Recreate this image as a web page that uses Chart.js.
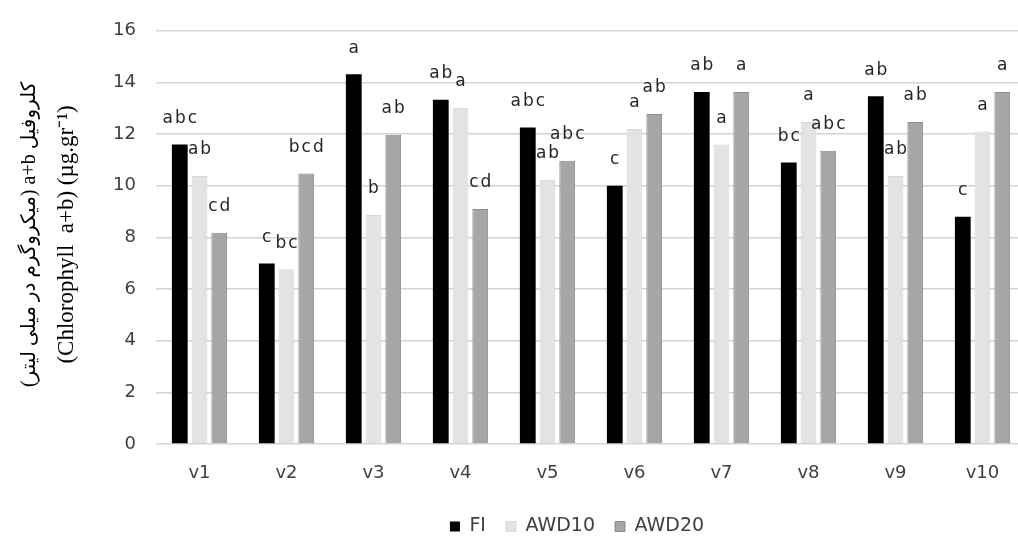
<!DOCTYPE html>
<html>
<head>
<meta charset="utf-8">
<script src="https://cdn.jsdelivr.net/npm/chart.js@4/dist/chart.umd.min.js"></script>
<style>
  html, body { margin: 0; padding: 0; background: #fff; overflow: hidden; }
  #wrap { width: 1030px; height: 536px; }
</style>
</head>
<body>
<div id="wrap"><canvas id="chlChart" width="1030" height="536"></canvas></div>
<script>
// chlorophyll a+b by variety and irrigation regime
const categories = ['v1', 'v2', 'v3', 'v4', 'v5', 'v6', 'v7', 'v8', 'v9', 'v10'];
const seriesNames = ['FI', 'AWD10', 'AWD20'];

const fiValues    = [11.6, 6.99, 14.32, 13.33, 12.26, 10.0, 13.63, 10.9, 13.47, 8.8];
const awd10Values = [10.38, 6.77, 8.87, 13.01, 10.22, 12.2, 11.6, 12.47, 10.38, 12.1];
const awd20Values = [8.18, 10.47, 11.97, 9.1, 10.97, 12.78, 13.63, 11.36, 12.47, 13.63];

// mean comparison letters over each bar
const fiLetters    = ['abc', 'c', 'a', 'ab', 'abc', 'c', 'ab', 'bc', 'ab', 'c'];
const awd10Letters = ['ab', 'bc', 'b', 'a', 'ab', 'a', 'a', 'a', 'ab', 'a'];
const awd20Letters = ['cd', 'bcd', 'ab', 'cd', 'abc', 'ab', 'a', 'abc', 'ab', 'a'];

const yTicks = [0, 2, 4, 6, 8, 10, 12, 14, 16];

const yTitleFa = 'کلروفیل a+b (میکروگرم در میلی لیتر)';
const yTitleEn = '(Chlorophyll  a+b) (µg.gr⁻¹)';

const TEXT_COLOR = '#404040';
const LABEL_FONT = '"DejaVu Sans"';

// letters drawn just above each bar
const letterPlugin = {
  id: 'letterPlugin',
  afterDatasetsDraw(chart) {
    const ctx = chart.ctx;
    const allLetters = [fiLetters, awd10Letters, awd20Letters];
    ctx.save();
    ctx.font = '17px "DejaVu Sans"';
    ctx.fillStyle = '#262626';
    ctx.textAlign = 'center';
    ctx.textBaseline = 'middle';
    ctx.letterSpacing = '2px';
    chart.data.datasets.forEach((ds, i) => {
      const meta = chart.getDatasetMeta(i);
      meta.data.forEach((bar, j) => {
        ctx.fillText(allLetters[i][j], bar.x + 1, bar.y - 26);
      });
    });
    ctx.restore();
  }
};

// legend sits under the plot, a bit right of the canvas centre
const legendShift = {
  id: 'legendShift',
  afterLayout(chart) {
    const lg = chart.legend;
    if (!lg) return;
    lg.left += 64;
    lg.right += 64;
  }
};

// two line y title (persian + english), rotated
const yTitlePlugin = {
  id: 'yTitlePlugin',
  afterDraw(chart) {
    const ctx = chart.ctx;
    const area = chart.chartArea;
    const cy = (area.top + area.bottom) / 2 - 3;
    ctx.save();
    ctx.fillStyle = '#000';
    ctx.textAlign = 'center';
    ctx.textBaseline = 'middle';

    ctx.save();
    ctx.translate(area.left - 126, cy);
    ctx.rotate(-Math.PI / 2);
    ctx.direction = 'rtl';
    ctx.font = '20px "Liberation Serif", "DejaVu Sans"';
    ctx.fillText(yTitleFa, 0, 0);
    ctx.restore();

    ctx.save();
    ctx.translate(area.left - 89, cy);
    ctx.rotate(-Math.PI / 2);
    ctx.direction = 'ltr';
    ctx.font = '23px "Liberation Serif"';
    ctx.fillText(yTitleEn, 0, 0);
    ctx.restore();

    ctx.restore();
  }
};

const ctx = document.getElementById('chlChart').getContext('2d');
new Chart(ctx, {
  type: 'bar',
  data: {
    labels: categories,
    datasets: [
      {
        label: seriesNames[0],
        data: fiValues,
        backgroundColor: '#000000',
        borderColor: '#000000',
        borderWidth: 0
      },
      {
        label: seriesNames[1],
        data: awd10Values,
        backgroundColor: '#e3e3e3',
        borderColor: '#d8d8d8',
        borderWidth: 1
      },
      {
        label: seriesNames[2],
        data: awd20Values,
        backgroundColor: '#a6a6a6',
        borderColor: '#8c8c8c',
        borderWidth: 1
      }
    ]
  },
  options: {
    responsive: false,
    animation: false,
    categoryPercentage: 0.68,
    barPercentage: 0.8,
    layout: { padding: { left: 0, right: 4, top: 18, bottom: -10 } },
    plugins: {
      tooltip: { enabled: false },
      legend: {
        position: 'bottom',
        labels: {
          boxWidth: 10,
          boxHeight: 10,
          padding: 20,
          color: TEXT_COLOR,
          font: { family: LABEL_FONT, size: 19 }
        }
      }
    },
    scales: {
      x: {
        afterFit(scale) { scale.height = 53; },
        grid: { display: false, drawTicks: false },
        border: { display: false },
        ticks: {
          padding: 19,
          color: TEXT_COLOR,
          font: { family: LABEL_FONT, size: 18 }
        }
      },
      y: {
        min: 0,
        max: 16,
        afterFit(scale) { scale.width = 156; },
        afterBuildTicks(scale) { scale.ticks = yTicks.map(v => ({ value: v })); },
        grid: { color: '#d4d4d4', lineWidth: 1.5, drawTicks: false },
        border: { display: false },
        ticks: {
          padding: 20,
          color: TEXT_COLOR,
          font: { family: LABEL_FONT, size: 18 }
        }
      }
    }
  },
  plugins: [letterPlugin, legendShift, yTitlePlugin]
});
</script>
</body>
</html>
